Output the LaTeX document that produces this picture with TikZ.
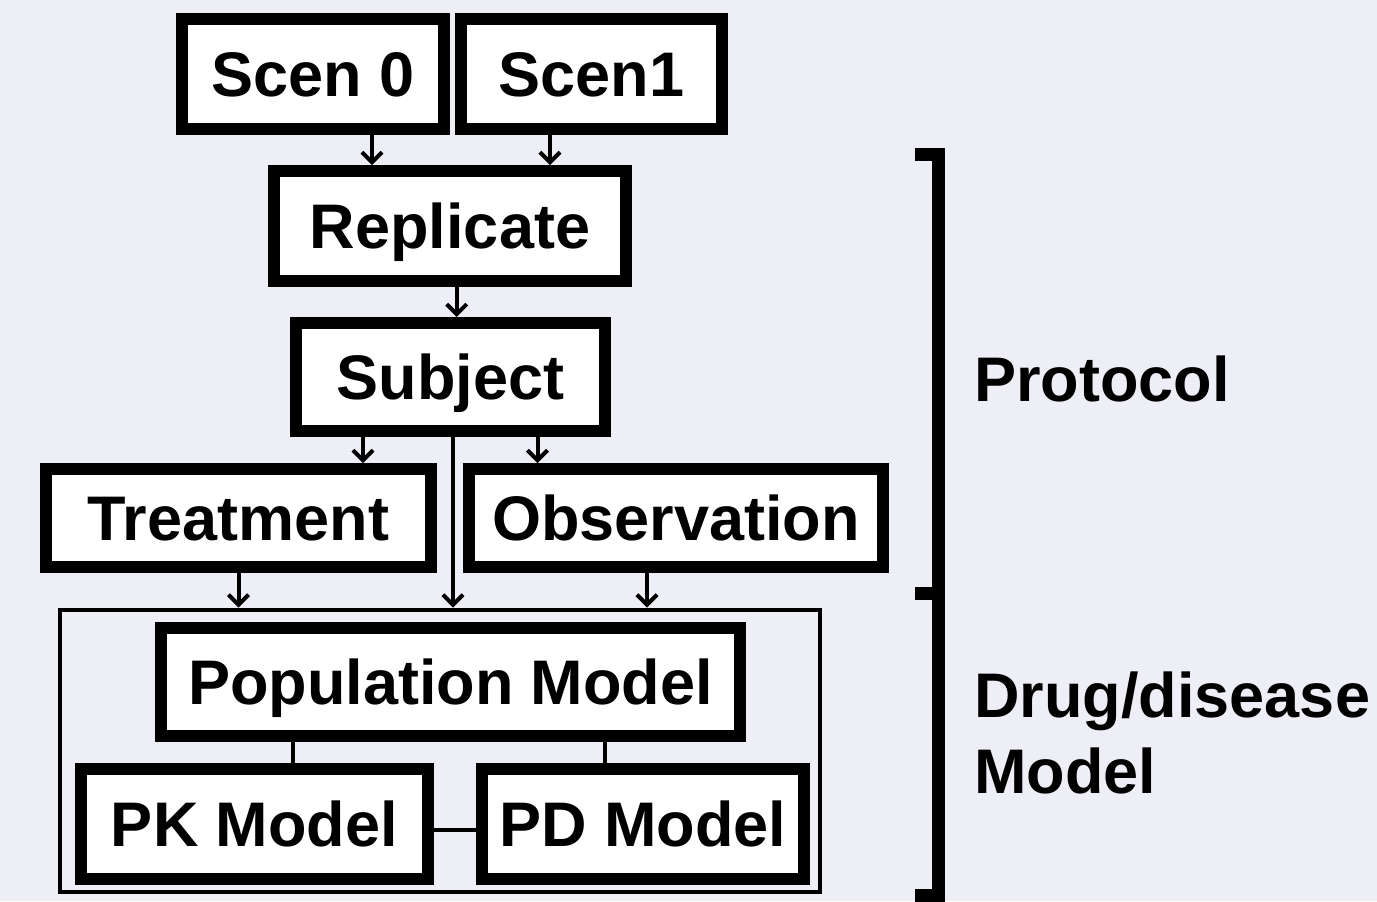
\documentclass[tikz,border=0pt]{standalone}
\usepackage{fontspec}
\setmainfont{Liberation Sans}
\usepackage{tikz}
\usetikzlibrary{arrows.meta,positioning,calc}
\definecolor{paneback}{RGB}{238, 238, 247}
\newcommand{\boxfont}{\fontsize{31.5}{38}\selectfont\bfseries}

\begin{document}
\begin{tikzpicture}[x=0.5pt, y=-0.5pt]
    \tikzstyle{mbox} = [draw=black, fill=white, line width=6pt, inner sep=0pt, font=\boxfont, text height=22.8pt, text depth=0pt]
    \tikzstyle{marrow} = [line width=2pt, -{Straight Barb[length=5pt, width=10pt, line width=2pt]}]
    \tikzstyle{mline} = [line width=2pt]

    % background
    \fill[paneback] (0,0) rectangle (1377,901);
    \useasboundingbox (0,0) rectangle (1377,901);

    % scenarios
    \node[mbox, minimum width=131pt, minimum height=55pt] (scen0) at (313, 74) {Scen 0};
    \node[mbox, minimum width=130.5pt, minimum height=55pt] (scen1) at (591.5, 74) {Scen1};
    \node[mbox, minimum width=176pt, minimum height=55pt] (repl) at (450, 226) {Replicate};
    \node[mbox, minimum width=154.5pt, minimum height=54pt] (subj) at (450.5, 377) {Subject};
    \node[mbox, minimum width=192.5pt, minimum height=49pt] (treat) at (238.5, 518) {Treatment};
    \node[mbox, minimum width=207pt, minimum height=49pt] (obs) at (676, 518) {Observation};

    % drug/disease model
    \node[draw=black, line width=2pt, minimum width=380pt, minimum height=141pt, inner sep=0pt] (dmodel) at (440, 750.5) {};
    \node[mbox, minimum width=289.5pt, minimum height=54pt] (pop) at (450.5, 682) {Population Model};
    \node[mbox, minimum width=173.5pt, minimum height=55pt] (pk) at (254.5, 824) {PK Model};
    \node[mbox, minimum width=161pt, minimum height=55pt] (pd) at (643, 824) {PD Model};

    \draw[marrow] ([xshift=29.5pt]scen0.south) -- ([xshift=29.5pt]scen0.south |- repl.north);
    \draw[marrow] ([xshift=-20.75pt]scen1.south) -- ([xshift=-20.75pt]scen1.south |- repl.north);
    \draw[marrow] ([xshift=3.35pt]repl.south) -- ([xshift=3.35pt]repl.south |- subj.north);
    \draw[marrow] ([xshift=-43.75pt]subj.south) -- ([xshift=-43.75pt]subj.south |- treat.north);
    \draw[marrow] ([xshift=43.5pt]subj.south) -- ([xshift=43.5pt]subj.south |- obs.north);
    \draw[marrow] ([xshift=1.25pt]subj.south) -- ([xshift=1.25pt]subj.south |- dmodel.north);
    \draw[marrow] (treat.south) -- (treat.south |- dmodel.north);
    \draw[marrow] ([xshift=-14.5pt]obs.south) -- ([xshift=-14.5pt]obs.south |- dmodel.north);

    \draw[mline] ([xshift=-78.75pt]pop.south) -- ([xshift=-78.75pt]pop.south |- pk.north);
    \draw[mline] ([xshift=77.25pt]pop.south) -- ([xshift=77.25pt]pop.south |- pd.north);
    \draw[mline] ([yshift=-2.75pt]pk.east) -- ([yshift=-2.75pt]pk.east -| pd.west);

    % brackets
    \draw[line width=6.5pt, line join=miter] (915,154) -- (938.5,154) -- (938.5,895) -- (915,895);
    \draw[line width=6.5pt] (915,593) -- (938.5,593);
    \node[font=\boxfont, anchor=base west, inner sep=0pt] (proto) at (974, 401) {Protocol};
    \node[font=\boxfont, anchor=base west, inner sep=0pt, align=left] (drug) at (974, 793) {Drug/disease\\Model};
\end{tikzpicture}
\end{document}
